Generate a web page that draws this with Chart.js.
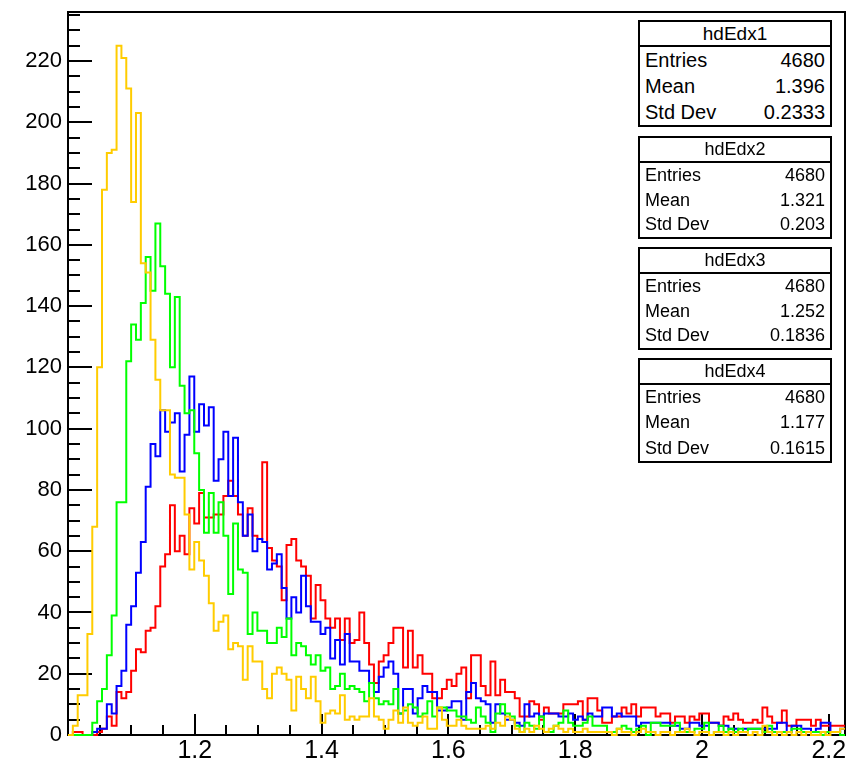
<!DOCTYPE html>
<html>
<head>
<meta charset="utf-8">
<script src="https://cdn.jsdelivr.net/npm/chart.js@4.4.1/dist/chart.umd.min.js"></script>
<style>
  html, body { margin: 0; padding: 0; background: #fff; }
  #wrap { position: relative; width: 848px; height: 767px; }
  .stat { position: absolute; left: 638px; width: 194px; box-sizing: border-box; border: 2px solid #000;
          background: #fff; font-family: "Liberation Sans", Arial, sans-serif; color: #000; }
  .stat .title { text-align: center; border-bottom: 2px solid #000; height: 23px; line-height: 23px; }
  .stat .row { display: flex; justify-content: space-between; padding: 0 5px; }
</style>
</head>
<body>
<div id="wrap">
  <canvas id="c"></canvas>
</div>
<script>
// binning of the four dE/dx histograms
const xMin = 1.0;
const binWidth = 0.00766;
const nBins = 160;
const yMax = 236;

const xTickLabels = [1.2, 1.4, 1.6, 1.8, 2, 2.2];
const yTickLabels = [0, 20, 40, 60, 80, 100, 120, 140, 160, 180, 200, 220];

// bin contents (red)
const hdEdx1 = [
  0,1,1,0,0,0,1,2,6,3,
  14,12,14,21,28,27,34,35,42,55,
  59,75,60,65,59,74,69,79,71,71,
  72,72,78,83,78,72,65,74,65,64,
  89,61,57,55,44,62,64,57,55,52,
  38,49,44,38,35,38,31,38,30,31,
  40,30,23,17,24,26,30,35,35,22,
  34,22,26,20,20,12,12,15,18,16,
  20,22,12,26,26,16,13,24,13,18,
  14,14,12,6,6,11,10,5,9,7,
  7,7,10,10,10,11,5,12,12,8,
  4,4,6,6,9,7,10,6,9,9,
  9,6,7,7,4,6,6,4,6,5,
  7,7,4,4,3,6,5,7,5,4,
  4,5,4,9,6,4,4,8,3,3,
  5,5,5,3,5,3,3,3,3,3
];

// blue
const hdEdx2 = [
  0,0,0,0,0,1,2,2,10,7,
  16,21,36,42,53,63,81,95,91,106,
  99,102,105,86,98,117,99,108,101,107,
  83,90,99,78,97,76,65,72,60,64,
  63,54,56,59,48,38,45,40,52,42,
  37,37,33,35,25,31,23,33,24,24,
  21,21,17,14,19,22,24,20,7,15,
  15,7,12,16,14,14,8,8,9,11,
  11,5,14,17,12,11,10,4,10,7,
  5,5,4,3,10,6,7,6,7,7,
  7,6,6,7,5,6,5,7,6,6,
  9,9,6,7,6,6,6,3,4,4,
  4,4,4,4,3,3,2,2,4,4,
  3,3,4,4,3,3,2,2,1,2,
  2,2,2,2,2,2,4,4,1,3,
  3,2,2,1,2,4,4,1,1,2
];

// green
const hdEdx3 = [
  0,0,0,0,0,4,11,15,26,39,
  76,76,122,134,129,141,156,145,167,153,
  144,120,143,114,105,106,92,80,66,79,
  66,76,65,46,69,54,53,33,40,34,
  34,30,30,35,32,38,26,30,29,26,
  23,26,21,22,15,16,20,15,16,15,
  14,11,17,12,10,11,10,15,7,8,
  10,9,6,7,11,6,9,9,8,8,
  6,6,5,4,9,6,4,1,7,10,
  7,6,3,1,4,3,2,6,1,1,
  3,4,8,4,3,3,4,6,3,3,
  3,1,1,2,3,2,1,2,3,0,
  4,4,3,3,3,4,1,1,1,2,
  2,4,0,1,3,1,2,1,2,1,
  2,2,2,1,3,1,1,1,1,2,
  2,1,1,1,1,0,1,1,1,0
];

// orange
const hdEdx4 = [
  0,3,13,13,33,68,120,178,190,191,
  225,221,211,174,203,154,151,129,116,106,
  106,85,84,84,72,54,63,57,52,43,
  34,37,39,28,30,29,18,29,24,24,
  15,12,20,22,20,18,8,19,15,12,
  19,11,4,7,8,7,13,5,6,5,
  6,6,12,6,5,2,5,8,4,9,
  4,3,4,6,2,2,9,5,3,3,
  5,3,2,2,2,2,3,2,4,3,
  6,5,2,1,2,1,3,2,1,2,
  3,2,1,2,1,1,2,1,1,1,
  1,1,0,2,1,1,0,1,2,1,
  1,0,1,1,0,1,1,2,1,0,
  1,1,0,1,1,0,1,0,1,1,
  0,1,0,3,1,0,1,0,1,0,
  1,0,1,0,0,1,0,1,1,2
];

// stats box contents
const statNames = ["hdEdx1", "hdEdx2", "hdEdx3", "hdEdx4"];
const statEntries = ["4680", "4680", "4680", "4680"];
const statMeans = ["1.396", "1.321", "1.252", "1.177"];
const statStdDevs = ["0.2333", "0.203", "0.1836", "0.1615"];

const xMax = xMin + nBins * binWidth;

// one point per low bin edge, plus the last upper edge
const steps = (values) => {
  const pts = values.map((v, i) => ({ x: xMin + i * binWidth, y: v }));
  pts.push({ x: xMin + values.length * binWidth, y: values[values.length - 1] });
  return pts;
};

const series = [
  { label: "hdEdx1", values: hdEdx1, color: "#ff0000", order: 4 },
  { label: "hdEdx2", values: hdEdx2, color: "#0000ff", order: 3 },
  { label: "hdEdx3", values: hdEdx3, color: "#00ff00", order: 2 },
  { label: "hdEdx4", values: hdEdx4, color: "#ffcc00", order: 1 },
];

// ROOT style frame with ticks pointing inwards
const frameTicks = {
  id: "frameTicks",
  beforeDatasetsDraw(chart) {
    const { ctx, chartArea: a, scales: { x, y } } = chart;
    ctx.save();
    ctx.strokeStyle = "#000";
    ctx.lineWidth = 2;
    ctx.strokeRect(a.left, a.top, a.right - a.left, a.bottom - a.top);

    ctx.beginPath();
    for (let k = 0; k * 5 <= yMax; k++) {
      const py = Math.round(y.getPixelForValue(k * 5));
      const len = k % 4 === 0 ? 24 : 12;
      ctx.moveTo(a.left, py);
      ctx.lineTo(a.left + len, py);
    }
    for (let k = 1; xMin + k * 0.05 <= xMax; k++) {
      const px = Math.round(x.getPixelForValue(xMin + k * 0.05));
      const len = k % 4 === 0 ? 21 : 10;
      ctx.moveTo(px, a.bottom);
      ctx.lineTo(px, a.bottom - len);
    }
    ctx.stroke();
    ctx.restore();
  }
};

new Chart(document.getElementById("c"), {
  type: "line",
  data: {
    datasets: series.map((s) => ({
      label: s.label,
      data: steps(s.values),
      borderColor: s.color,
      borderWidth: 2,
      pointRadius: 0,
      stepped: true,
      fill: false,
      order: s.order,
      clip: false,
    })),
  },
  options: {
    responsive: true,
    maintainAspectRatio: false,
    devicePixelRatio: 1,
    animation: false,
    layout: { padding: { left: 0, top: 12, right: 3, bottom: 0 } },
    plugins: { legend: { display: false }, tooltip: { enabled: false } },
    scales: {
      x: {
        type: "linear",
        min: xMin,
        max: xMax,
        grid: { display: false, drawTicks: false },
        border: { display: false },
        afterBuildTicks: (s) => { s.ticks = xTickLabels.map((v) => ({ value: v })); },
        afterFit: (s) => { s.height = 32; s.paddingLeft = 0; s.paddingRight = 0; },
        ticks: {
          font: { family: "Liberation Sans", size: 25 },
          color: "#000",
          padding: 1,
          maxRotation: 0,
          autoSkip: false,
          callback: (v) => String(v),
        },
      },
      y: {
        min: 0,
        max: yMax,
        grid: { display: false, drawTicks: false },
        border: { display: false },
        afterBuildTicks: (s) => { s.ticks = yTickLabels.map((v) => ({ value: v })); },
        afterFit: (s) => { s.width = 68; s.paddingTop = 0; s.paddingBottom = 0; },
        ticks: {
          font: { family: "Liberation Sans", size: 22 },
          color: "#000",
          padding: 6,
          autoSkip: false,
        },
      },
    },
  },
  plugins: [frameTicks],
});

// stats boxes, stacked top right like ROOT's "sames"
const boxTops = [20, 136, 247, 358];
const boxHeights = [107, 103, 103, 105];
const boxFonts = [20, 18, 18, 18];
const wrap = document.getElementById("wrap");
statNames.forEach((name, i) => {
  const box = document.createElement("div");
  box.className = "stat";
  box.style.top = boxTops[i] + "px";
  box.style.height = boxHeights[i] + "px";
  box.style.fontSize = boxFonts[i] + "px";
  const rowH = (boxHeights[i] - 4 - 25) / 3;
  const rows = [["Entries", statEntries[i]], ["Mean", statMeans[i]], ["Std Dev", statStdDevs[i]]];
  box.innerHTML = `<div class="title" style="font-size:${i === 0 ? 19 : 18}px">${name}</div>` +
    rows.map(([k, v]) => `<div class="row" style="height:${rowH}px;line-height:${rowH}px"><span>${k}</span><span>${v}</span></div>`).join("");
  wrap.appendChild(box);
});
</script>
</body>
</html>
